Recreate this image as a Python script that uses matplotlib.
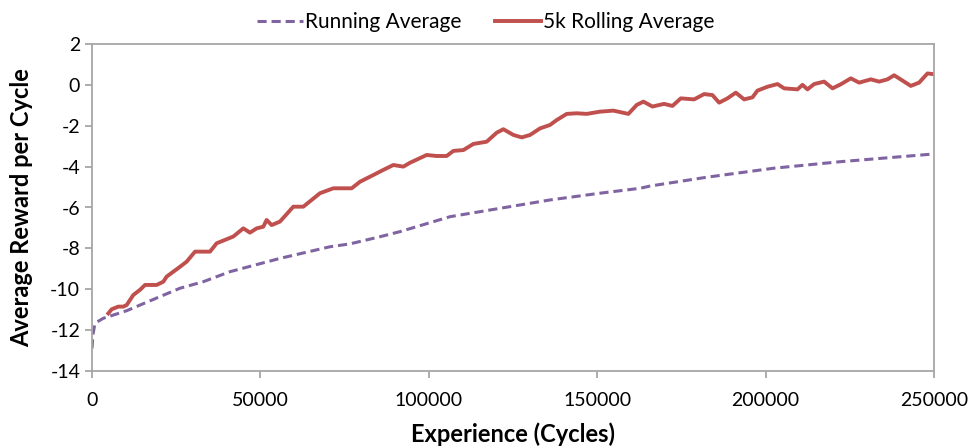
import matplotlib
matplotlib.use("Agg")
import matplotlib.pyplot as plt

# Running average (purple dashed)
run_x = [0, 300, 800, 1500, 3370, 10300, 20190, 26130, 33060, 40980, 55800, 70660,
         76600, 85510, 91450, 106300, 121150, 136000, 150850, 162730, 165700,
         182470, 202300, 222100, 250000]
run_y = [-12.9, -12.2, -11.75, -11.6, -11.42, -11.05, -10.36, -9.95, -9.63, -9.14, -8.49, -7.92,
         -7.78, -7.43, -7.18, -6.45, -6.04, -5.63, -5.30, -5.06, -4.95,
         -4.52, -4.08, -3.76, -3.38]

# 5k rolling average (red)
roll_x = [4850, 5840, 7810, 9300, 10300, 12270, 14250, 15740, 19200, 21170, 22170,
          26130, 28100, 30580, 35030, 37010, 41960, 44930, 46900, 48900, 50860,
          51850, 53340, 55800, 59770, 62740, 67700, 71650, 74620, 77100, 79570,
          83530, 86500, 89470, 92440, 94420, 99370, 102340, 105310, 107290, 110260,
          113230, 117190, 120160, 122140, 125110, 127590, 130060, 133030, 136000,
          137980, 140950, 143920, 146890, 150850, 154810, 159260, 161740, 163720,
          166400, 169860, 172340, 174820, 178780, 181750, 184220, 186200, 188670,
          191150, 193620, 196100, 197590, 200560, 203530, 205510, 209470, 210950,
          212440, 214410, 217380, 219860, 222330, 225300, 227770, 231240, 233710,
          236180, 238160, 241130, 243110, 245580, 248060, 250000]
roll_y = [-11.18, -10.98, -10.85, -10.85, -10.77, -10.28, -10.03, -9.79, -9.79, -9.63, -9.38,
          -8.9, -8.65, -8.16, -8.16, -7.75, -7.42, -7.02, -7.23, -7.02, -6.94,
          -6.61, -6.86, -6.69, -5.96, -5.96, -5.30, -5.06, -5.06, -5.06, -4.74,
          -4.41, -4.16, -3.92, -4.0, -3.81, -3.43, -3.48, -3.48, -3.23, -3.19,
          -2.89, -2.78, -2.34, -2.17, -2.45, -2.57, -2.45, -2.13, -1.96,
          -1.72, -1.42, -1.39, -1.42, -1.31, -1.26, -1.42, -0.98, -0.82,
          -1.06, -0.93, -1.03, -0.66, -0.71, -0.45, -0.50, -0.87, -0.66,
          -0.38, -0.71, -0.61, -0.28, -0.09, 0.04, -0.17, -0.22, 0.0,
          -0.22, 0.04, 0.16, -0.17, 0.03, 0.32, 0.11, 0.27, 0.16,
          0.27, 0.47, 0.16, -0.05, 0.11, 0.56, 0.52]

x_ticks = [0, 50000, 100000, 150000, 200000, 250000]
y_ticks = [-14, -12, -10, -8, -6, -4, -2, 0, 2]

plt.rcParams['font.family'] = ['Lato', 'DejaVu Sans']

fig = plt.figure(figsize=(9.71, 4.48), dpi=100)
ax = fig.add_axes([92/971, 1 - 371/448, (934-92)/971, (371-44)/448])

ax.plot(run_x, run_y, color='#8064A2', lw=2.2, ls=(0, (3, 1.6)), label='Running Average')
ax.plot(roll_x, roll_y, color='#C0504D', lw=2.8, label='5k Rolling Average')

ax.set_xlim(0, 250000)
ax.set_ylim(-14, 2)
ax.set_xticks(x_ticks)
ax.set_xticklabels([str(v) for v in x_ticks])
ax.set_yticks(y_ticks)
ax.set_yticklabels([str(v) for v in y_ticks])
for s in ax.spines.values():
    s.set_color('#A6A6A6')
    s.set_linewidth(1.3)
ax.tick_params(axis='both', colors='#A6A6A6', length=5, width=1.3, direction='out',
               labelcolor='black', labelsize=14)
ax.tick_params(axis='x', pad=10)

ax.set_xlabel('Experience (Cycles)', fontsize=17, fontweight='bold', labelpad=10)
ax.set_ylabel('Average Reward per Cycle', fontsize=17, fontweight='bold', labelpad=12)

fig.legend(loc='upper center', bbox_to_anchor=(0.5, 1.015), ncol=2, frameon=False,
           fontsize=15, handlelength=2.2, columnspacing=1.6, handletextpad=0.1)

fig.savefig('out.png', dpi=100)
